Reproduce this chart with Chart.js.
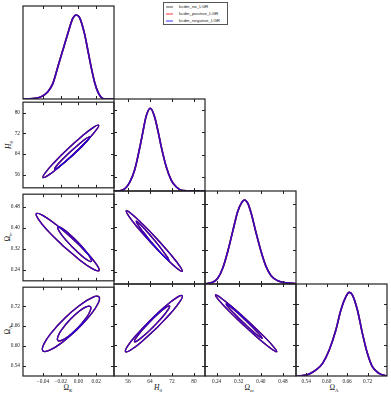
<!DOCTYPE html>
<html>
<head>
<meta charset="utf-8">
<script src="https://cdn.jsdelivr.net/npm/chart.js@4.4.1/dist/chart.umd.min.js"></script>
<style>
body { margin: 0; background: #fff; }
#wrap { position: relative; width: 391px; height: 395px; overflow: hidden; }
canvas { position: absolute; }
.lab { position: absolute; font-family: 'Liberation Serif', serif; font-size: 7.5px; color: #111; white-space: nowrap; line-height: 1; }
.lab sub { font-size: 5px; vertical-align: -1.5px; line-height: 0; }
.ylab { transform: translate(-50%, -50%) rotate(-90deg); }
.xlab { transform: translate(-50%, -50%); }
#legend { position: absolute; left: 163px; top: 2px; width: 63px; height: 21px; border: 1px solid #555; background: #fff;
  font-family: 'Liberation Sans', sans-serif; font-size: 4.4px; color: #222; }
#legend .row { position: absolute; left: 2px; height: 6px; line-height: 6px; white-space: nowrap; }
#legend .sw { display: inline-block; width: 7px; height: 1.5px; vertical-align: middle; margin-right: 6px; }
</style>
</head>
<body>
<div id="wrap">
  <div id="legend">
    <div class="row" style="top:1px"><span class="sw" style="background:#aaa"></span>kcdm_no_LGR</div>
    <div class="row" style="top:8px"><span class="sw" style="background:#f99"></span>kcdm_positive_LGR</div>
    <div class="row" style="top:15px"><span class="sw" style="background:#99f"></span>kcdm_negative_LGR</div>
  </div>
  <div class="lab xlab" style="left:68px;top:388px">Ω<sub><i>K</i></sub></div>
  <div class="lab xlab" style="left:158px;top:388px"><i>H</i><sub>0</sub></div>
  <div class="lab xlab" style="left:249px;top:388px">Ω<sub><i>m</i></sub></div>
  <div class="lab xlab" style="left:334px;top:388px">Ω<sub>Λ</sub></div>
  <div class="lab ylab" style="left:9px;top:145px"><i>H</i><sub>0</sub></div>
  <div class="lab ylab" style="left:8px;top:237px">Ω<sub><i>m</i></sub></div>
  <div class="lab ylab" style="left:8px;top:330px">Ω<sub>Λ</sub></div>
</div>
<script>
// Axis ranges and ticks
const omkRange = [-0.0625, 0.04];
const h0Range = [50.9, 84.0];
const ommRange = [0.198, 0.527];
const omlRange = [0.51, 0.777];
const omkTicks = [-0.04, -0.02, 0.00, 0.02];
const h0Ticks = [56, 64, 72, 80];
const ommTicks = [0.24, 0.32, 0.40, 0.48];
const omlTicks = [0.54, 0.60, 0.66, 0.72];

const seriesNames = ['kcdm_no_LGR', 'kcdm_positive_LGR', 'kcdm_negative_LGR'];
const seriesColors = ['rgba(0,0,0,0.85)', 'rgba(255,0,0,0.85)', 'rgba(0,0,255,0.75)'];

// 1D marginals (normalised to peak ~1)
const omkX = [-0.0625, -0.0513, -0.0419, -0.0345, -0.0288, -0.0232, -0.0176, -0.0120, -0.0064, -0.0026, 0.0011, 0.0067, 0.0105, 0.0142, 0.0180, 0.0217, 0.0255, 0.0292, 0.04];
const omkP = [0, 0.004, 0.028, 0.087, 0.185, 0.382, 0.579, 0.776, 0.954, 0.994, 0.966, 0.776, 0.579, 0.382, 0.205, 0.087, 0.020, 0, 0];
const h0X = [50.9, 51.7, 54.1, 56.6, 58.4, 60.2, 61.4, 62.6, 64.1, 65.6, 66.85, 68.1, 69.9, 71.7, 73.5, 75.9, 79.6, 84.0];
const h0P = [0, 0, 0.012, 0.103, 0.25, 0.508, 0.705, 0.895, 0.99, 0.895, 0.725, 0.527, 0.289, 0.131, 0.051, 0.004, 0, 0];
const ommX = [0.198, 0.2023, 0.226, 0.244, 0.262, 0.280, 0.298, 0.316, 0.329, 0.341, 0.353, 0.365, 0.383, 0.401, 0.419, 0.437, 0.461, 0.491, 0.527];
const ommP = [0, 0.004, 0.02, 0.067, 0.186, 0.382, 0.619, 0.855, 0.954, 0.994, 0.954, 0.836, 0.6, 0.382, 0.205, 0.098, 0.039, 0.015, 0.004];
const omlX = [0.51, 0.5296, 0.549, 0.5687, 0.588, 0.6075, 0.627, 0.6417, 0.6563, 0.666, 0.6756, 0.6902, 0.7048, 0.7194, 0.734, 0.7535, 0.773, 0.777];
const omlP = [0, 0.004, 0.024, 0.072, 0.151, 0.311, 0.55, 0.789, 0.948, 1.0, 0.968, 0.789, 0.51, 0.271, 0.111, 0.032, 0.004, 0];

// 2D contours (68% inner, 95% outer), traced points
const omkH0Outer = [[-0.00546, 63.98], [-0.02156, 59.04], [-0.0342, 55.70], [-0.04, 54.84], [-0.0374, 56.70], [-0.02712, 60.78],
  [-0.01188, 65.98], [0.00422, 70.92], [0.01686, 74.26], [0.02266, 75.12], [0.02006, 73.26], [0.00978, 69.18]];
const omkH0Inner = [[-0.00541, 63.81], [-0.01549, 60.78], [-0.02333, 58.72], [-0.02684, 58.16], [-0.02507, 59.27], [-0.01851, 61.75],
  [-0.00889, 64.93], [0.00119, 67.96], [0.00903, 70.03], [0.01254, 70.58], [0.01077, 69.46], [0.00421, 66.99]];
const omkOmmOuter = [[-0.01692, 0.3296], [-0.0339, 0.3859], [-0.04506, 0.4312], [-0.04742, 0.4534], [-0.04034, 0.4465], [-0.02574, 0.4124],
  [-0.0075, 0.3602], [0.00948, 0.3039], [0.02064, 0.2586], [0.023, 0.2364], [0.01592, 0.2433], [0.00132, 0.2774]];
const omkOmmInner = [[-0.0075, 0.3281], [-0.01648, 0.3620], [-0.02219, 0.3892], [-0.02313, 0.4025], [-0.01903, 0.3983], [-0.011, 0.3777],
  [-0.00118, 0.3463], [0.0078, 0.3125], [0.01351, 0.2852], [0.01445, 0.2719], [0.01035, 0.2761], [0.00232, 0.2967]];
const omkOmlOuter = [[-0.00174, 0.6493], [-0.0184, 0.6110], [-0.0324, 0.5876], [-0.04, 0.5854], [-0.03916, 0.605], [-0.0301, 0.6412],
  [-0.01526, 0.6842], [0.0014, 0.7225], [0.0154, 0.7458], [0.023, 0.748], [0.02216, 0.7285], [0.0131, 0.6922]];
const omkOmlInner = [[-0.0001, 0.6564], [-0.00986, 0.6323], [-0.01829, 0.6177], [-0.02313, 0.6166], [-0.02309, 0.6291], [-0.01818, 0.652],
  [-0.0097, 0.6792], [0.00006, 0.7033], [0.00849, 0.7179], [0.01333, 0.719], [0.01329, 0.7065], [0.00838, 0.6836]];
const h0OmmOuter = [[64.61, 0.3412], [59.65, 0.396], [56.27, 0.4383], [55.37, 0.4569], [57.2, 0.4468], [61.26, 0.4106],
  [66.47, 0.3582], [71.43, 0.3034], [74.81, 0.2611], [75.71, 0.2425], [73.88, 0.2526], [69.82, 0.2888]];
const h0OmmInner = [[64.42, 0.3468], [61.53, 0.382], [59.54, 0.4089], [59.0, 0.4203], [60.04, 0.413], [62.39, 0.3892],
  [65.42, 0.355], [68.32, 0.3198], [70.3, 0.2929], [70.84, 0.2815], [69.8, 0.2888], [67.45, 0.3126]];
const h0OmlOuter = [[66.69, 0.6515], [61.36, 0.6122], [57.13, 0.5862], [55.11, 0.5805], [55.85, 0.5966], [59.16, 0.6301],
  [64.14, 0.6721], [69.46, 0.7114], [73.69, 0.7374], [75.71, 0.7431], [74.97, 0.727], [71.66, 0.6935]];
const h0OmlInner = [[65.52, 0.6553], [62.23, 0.6302], [59.62, 0.6135], [58.38, 0.6096], [58.85, 0.6196], [60.89, 0.6408],
  [63.96, 0.6675], [67.25, 0.6926], [69.86, 0.7093], [71.1, 0.7132], [70.64, 0.7032], [68.59, 0.682]];
const ommOmlOuter = [[0.3392, 0.6564], [0.2849, 0.6984], [0.2471, 0.7309], [0.2359, 0.7451], [0.2544, 0.7373], [0.2976, 0.7095],
  [0.354, 0.6692], [0.4083, 0.6272], [0.4461, 0.5947], [0.4573, 0.5805], [0.4388, 0.5883], [0.3956, 0.6161]];
const ommOmlInner = [[0.3356, 0.6658], [0.3037, 0.6912], [0.2813, 0.7106], [0.2746, 0.719], [0.2853, 0.714], [0.3105, 0.697],
  [0.3436, 0.6726], [0.3755, 0.6472], [0.3979, 0.6278], [0.4046, 0.6194], [0.3939, 0.6244], [0.3687, 0.6414]];

const params = [
  { key: 'omk', range: omkRange, ticks: omkTicks, x: omkX, p: omkP },
  { key: 'h0', range: h0Range, ticks: h0Ticks, x: h0X, p: h0P },
  { key: 'omm', range: ommRange, ticks: ommTicks, x: ommX, p: ommP },
  { key: 'oml', range: omlRange, ticks: omlTicks, x: omlX, p: omlP }
];
const contours = {
  '1-0': [omkH0Outer, omkH0Inner],
  '2-0': [omkOmmOuter, omkOmmInner],
  '3-0': [omkOmlOuter, omkOmlInner],
  '2-1': [h0OmmOuter, h0OmmInner],
  '3-1': [h0OmlOuter, h0OmlInner],
  '3-2': [ommOmlOuter, ommOmlInner]
};

// Layout (pixels)
const colLeft = [23, 114, 205, 296, 387];
const rowTop = [6, 99, 191, 284, 376];
const PAGE_H = 395;

const tickFont = { family: "'Liberation Serif', serif", size: 5.3 };

function fmt(v, key) {
  if (key === 'h0') return String(v);
  const s = Math.abs(v).toFixed(2);
  return v < -1e-9 ? '\u2212' + s : s;
}

// inward ticks on all four sides + frame
const frameTicks = {
  id: 'frameTicks',
  afterDatasetsDraw(chart, args, opts) {
    const { ctx, chartArea: a } = chart;
    const xs = chart.scales.x;
    const len = 3;
    ctx.save();
    ctx.strokeStyle = '#222';
    ctx.lineWidth = 1;
    ctx.beginPath();
    opts.xt.forEach(v => {
      const p = Math.round(xs.getPixelForValue(v)) + 0.5;
      ctx.moveTo(p, a.bottom); ctx.lineTo(p, a.bottom - len);
      ctx.moveTo(p, a.top); ctx.lineTo(p, a.top + len);
    });
    if (opts.yt) {
      opts.yt.forEach(v => {
        const f = (v - opts.yr[0]) / (opts.yr[1] - opts.yr[0]);
        const p = Math.round(a.bottom - f * (a.bottom - a.top)) + 0.5;
        ctx.moveTo(a.left, p); ctx.lineTo(a.left + len, p);
        ctx.moveTo(a.right, p); ctx.lineTo(a.right - len, p);
      });
    }
    ctx.stroke();
    ctx.lineWidth = 1.2;
    ctx.strokeRect(a.left, a.top, a.right - a.left, a.bottom - a.top);
    ctx.restore();
  }
};

function closed(pts) {
  const out = pts.map(p => ({ x: p[0], y: p[1] }));
  out.push({ x: pts[0][0], y: pts[0][1] });
  return out;
}

function makePanel(r, c) {
  const L = colLeft[c], T = rowTop[r];
  const W = colLeft[c + 1] - L, H = rowTop[r + 1] - T;
  const showY = c === 0 && r > 0;
  const showX = r === 3;
  const padL = showY ? 0 : 3, padR = 3, padT = 3, padB = showX ? 0 : 3;
  const left = showY ? 0 : L - padL;
  const top = T - padT;
  const width = L + W + padR - left;
  const height = (showX ? PAGE_H : T + H + padB) - top;

  const canvas = document.createElement('canvas');
  canvas.width = width; canvas.height = height;
  canvas.style.left = left + 'px'; canvas.style.top = top + 'px';
  document.getElementById('wrap').appendChild(canvas);

  const px = params[c];
  const diag = r === c;
  const py = diag ? null : params[r];

  const datasets = [];
  if (diag) {
    seriesNames.forEach((name, i) => {
      datasets.push({
        label: name,
        data: px.x.map((v, k) => ({ x: v, y: px.p[k] })),
        borderColor: seriesColors[i],
        borderWidth: 1.6,
        cubicInterpolationMode: 'monotone',
        order: 3 - i
      });
    });
  } else {
    const levels = contours[r + '-' + c];
    seriesNames.forEach((name, i) => {
      levels.forEach(lv => {
        datasets.push({
          label: name,
          data: closed(lv),
          borderColor: seriesColors[i],
          borderWidth: 1.3,
          tension: 0.45,
          order: 3 - i
        });
      });
    });
  }
  datasets.forEach(d => { d.showLine = true; d.pointRadius = 0; d.fill = false; });

  const rowParam = params[r];
  new Chart(canvas, {
    type: 'scatter',
    data: { datasets },
    options: {
      responsive: false,
      animation: false,
      devicePixelRatio: 1,
      events: [],
      layout: { padding: { left: padL, right: padR, top: padT, bottom: padB } },
      plugins: {
        legend: { display: false },
        tooltip: { enabled: false },
        frameTicks: {
          xt: px.ticks,
          yt: (diag && r === 0) ? null : rowParam.ticks,
          yr: rowParam.range
        }
      },
      scales: {
        x: {
          type: 'linear', min: px.range[0], max: px.range[1],
          display: showX,
          grid: { display: false, drawTicks: false },
          border: { display: false },
          afterBuildTicks: ax => { ax.ticks = px.ticks.map(v => ({ value: v })); },
          afterFit: ax => { if (showX) ax.height = PAGE_H - rowTop[4]; },
          ticks: { font: tickFont, color: '#222', padding: 2, maxRotation: 0, autoSkip: false,
            callback: v => fmt(v, px.key) }
        },
        y: {
          type: 'linear',
          min: diag ? 0 : py.range[0], max: diag ? 1.1 : py.range[1],
          display: showY,
          grid: { display: false, drawTicks: false },
          border: { display: false },
          afterBuildTicks: ax => { if (!diag) ax.ticks = py.ticks.map(v => ({ value: v })); },
          afterFit: ax => { if (showY) ax.width = colLeft[0]; },
          ticks: { font: tickFont, color: '#222', padding: 3, autoSkip: false,
            callback: v => diag ? '' : fmt(v, py.key) }
        }
      }
    },
    plugins: [frameTicks]
  });
}

for (let r = 0; r < 4; r++) {
  for (let c = 0; c <= r; c++) makePanel(r, c);
}
</script>
</body>
</html>
